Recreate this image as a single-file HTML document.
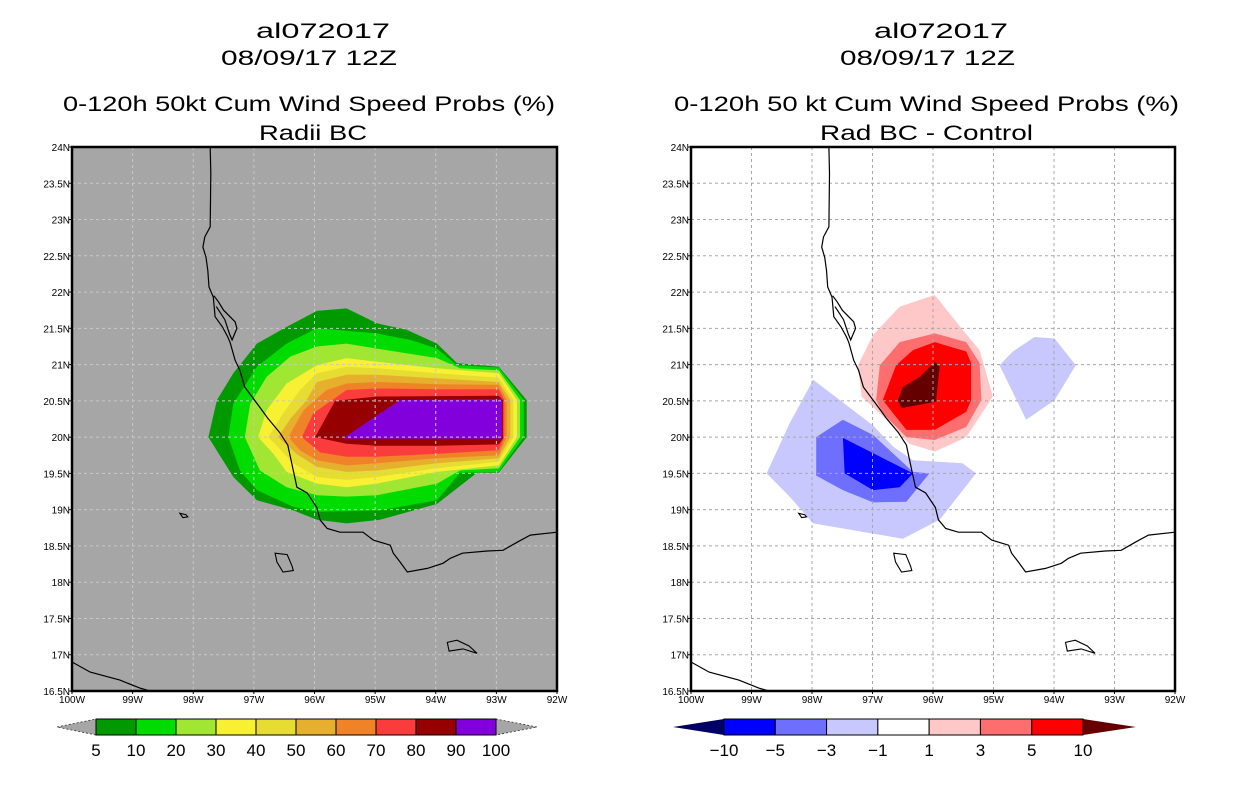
<!DOCTYPE html>
<html><head><meta charset="utf-8"><style>
body{margin:0;background:#fff;width:1236px;height:800px;overflow:hidden;font-family:"Liberation Sans",sans-serif}
svg{display:block}
</style></head><body>
<svg id="s" width="1236" height="800" xmlns="http://www.w3.org/2000/svg">
<g font-family="Liberation Sans, sans-serif" font-size="21" fill="#000">
<text x="256" y="38" textLength="134" lengthAdjust="spacingAndGlyphs">al072017</text>
<text x="221" y="65" textLength="176" lengthAdjust="spacingAndGlyphs">08/09/17 12Z</text>
<text x="63" y="111" textLength="492" lengthAdjust="spacingAndGlyphs">0-120h 50kt Cum Wind Speed Probs (%)</text>
<text x="259" y="140" textLength="108" lengthAdjust="spacingAndGlyphs">Radii BC</text>
<text x="874" y="38" textLength="134" lengthAdjust="spacingAndGlyphs">al072017</text>
<text x="840" y="65" textLength="175" lengthAdjust="spacingAndGlyphs">08/09/17 12Z</text>
<text x="674" y="111" textLength="505" lengthAdjust="spacingAndGlyphs">0-120h 50 kt Cum Wind Speed Probs (%)</text>
<text x="820" y="140" textLength="213" lengthAdjust="spacingAndGlyphs">Rad BC - Control</text>
</g>
</svg>
<script>
const probLevels=[5,10,20,30,40,50,60,70,80,90,100];
const probColors=["#009a00","#00dc00","#a0e632","#f8f032","#e6dc32","#e6af2d","#f08228","#fa3c3c","#960000","#8200dc"];
const probBands=[
[[-95.96,21.74],[-95.47,21.775],[-94.97,21.57],[-94.48,21.48],[-93.98,21.29],[-93.65,21.02],[-92.96,20.97],[-92.50,20.51],[-92.50,20.00],[-92.96,19.51],[-93.32,19.51],[-93.98,19.08],[-94.92,18.86],[-95.47,18.81],[-95.96,18.86],[-96.35,18.99],[-96.95,19.13],[-97.34,19.45],[-97.75,20.00],[-97.61,20.51],[-97.34,20.88],[-96.95,21.29],[-96.46,21.52]],
[[-95.96,21.50],[-94.97,21.43],[-94.42,21.34],[-93.98,21.22],[-93.65,20.99],[-92.96,20.96],[-92.55,20.51],[-92.55,20.00],[-92.96,19.52],[-93.60,19.51],[-93.98,19.13],[-94.92,18.99],[-95.96,18.97],[-96.35,19.04],[-96.95,19.27],[-97.23,19.54],[-97.42,20.00],[-97.34,20.46],[-96.95,20.97],[-96.46,21.29]],
[[-95.96,21.25],[-95.47,21.29],[-94.97,21.22],[-93.98,21.09],[-93.60,20.95],[-92.96,20.92],[-92.61,20.51],[-92.61,20.00],[-92.96,19.57],[-93.60,19.54],[-93.98,19.36],[-94.97,19.20],[-95.47,19.18],[-95.96,19.20],[-96.46,19.31],[-96.90,19.54],[-97.15,20.00],[-97.06,20.46],[-96.79,20.83],[-96.40,21.11]],
[[-95.96,20.99],[-95.47,21.09],[-94.97,21.04],[-93.98,20.95],[-92.96,20.88],[-92.66,20.51],[-92.66,20.00],[-92.96,19.61],[-93.98,19.52],[-94.97,19.36],[-95.47,19.31],[-95.96,19.36],[-96.46,19.52],[-96.68,19.77],[-96.93,20.00],[-96.79,20.37],[-96.46,20.74]],
[[-95.96,20.88],[-95.47,20.97],[-94.97,20.95],[-93.98,20.88],[-92.96,20.82],[-92.72,20.51],[-92.72,20.00],[-92.96,19.66],[-93.98,19.57],[-94.97,19.45],[-95.47,19.41],[-95.96,19.45],[-96.35,19.64],[-96.76,20.00],[-96.54,20.30],[-96.24,20.65]],
[[-95.96,20.76],[-95.47,20.86],[-94.97,20.86],[-93.98,20.81],[-92.96,20.76],[-92.77,20.51],[-92.77,20.00],[-92.96,19.71],[-93.98,19.64],[-94.97,19.54],[-95.47,19.52],[-95.96,19.59],[-96.30,19.77],[-96.60,20.00],[-96.40,20.25],[-96.13,20.51]],
[[-96.43,20.00],[-96.18,20.37],[-95.80,20.65],[-95.47,20.74],[-94.97,20.76],[-93.98,20.73],[-92.96,20.72],[-92.83,20.51],[-92.83,20.00],[-92.96,19.75],[-93.98,19.71],[-94.97,19.64],[-95.47,19.61],[-95.96,19.68],[-96.24,19.82]],
[[-96.21,20.00],[-96.02,20.33],[-95.47,20.65],[-94.97,20.67],[-93.98,20.66],[-92.96,20.66],[-92.87,20.51],[-92.87,20.00],[-92.96,19.82],[-93.98,19.77],[-94.97,19.73],[-95.47,19.73],[-95.91,19.79]],
[[-95.99,20.00],[-95.66,20.50],[-94.97,20.56],[-92.96,20.57],[-92.89,20.51],[-92.89,19.98],[-92.96,19.90],[-93.98,19.88],[-94.97,19.88],[-95.47,19.91]],
[[-95.50,20.00],[-94.59,20.51],[-92.91,20.53],[-92.91,19.98],[-95.50,19.98]]
];
const diffLevels=[-10,-5,-3,-1,1,3,5,10];
const diffColors=["#000064","#0000ff","#6e6eff","#c8c8ff","#ffffff","#ffc8c8","#ff6e6e","#ff0000","#640000"];
const diffPolys=[
{c:5,p:[[-95.97,21.96],[-95.51,21.48],[-95.23,21.20],[-95.01,20.56],[-95.45,20.00],[-95.97,19.80],[-96.39,19.91],[-96.88,20.33],[-97.18,20.56],[-97.24,20.99],[-96.99,21.41],[-96.55,21.80]]},
{c:6,p:[[-95.97,21.43],[-95.45,21.31],[-95.23,21.02],[-95.20,20.51],[-95.45,20.14],[-95.97,19.96],[-96.44,20.00],[-96.83,20.33],[-96.94,20.51],[-96.88,20.99],[-96.55,21.31]]},
{c:7,p:[[-95.97,21.31],[-95.45,21.18],[-95.37,21.02],[-95.37,20.51],[-95.45,20.35],[-95.97,20.10],[-96.44,20.10],[-96.66,20.33],[-96.83,20.51],[-96.61,20.99],[-96.33,21.20]]},
{c:8,p:[[-95.97,21.04],[-95.89,20.97],[-95.95,20.49],[-96.52,20.40],[-96.58,20.51],[-96.50,20.69],[-96.22,20.83]]},
{c:3,p:[[-94.32,21.38],[-93.99,21.36],[-93.64,20.99],[-93.99,20.51],[-94.46,20.24],[-94.90,20.99],[-94.68,21.18]]},
{c:3,p:[[-97.98,20.79],[-96.99,20.16],[-96.66,19.87],[-96.33,19.68],[-95.51,19.64],[-95.29,19.50],[-95.89,18.86],[-96.50,18.60],[-96.99,18.67],[-97.49,18.74],[-97.98,18.81],[-98.37,19.18],[-98.75,19.50],[-98.37,20.19]]},
{c:2,p:[[-97.49,20.24],[-96.99,20.03],[-96.33,19.52],[-96.06,19.50],[-96.44,19.11],[-96.99,19.10],[-97.49,19.27],[-97.93,19.47],[-97.93,20.00]]},
{c:1,p:[[-97.49,19.99],[-96.33,19.50],[-96.55,19.31],[-96.99,19.27],[-97.46,19.50]]}
];
const coastMain=[[-97.72,24],[-97.71,23.64],[-97.72,22.90],[-97.81,22.76],[-97.84,22.62],[-97.79,22.48],[-97.76,22.30],[-97.74,22.07],[-97.67,21.93],[-97.64,21.66],[-97.52,21.52],[-97.43,21.38],[-97.39,21.30],[-97.31,21.06],[-97.23,20.92],[-97.15,20.69],[-96.90,20.41],[-96.77,20.26],[-96.57,20.06],[-96.44,19.89],[-96.35,19.54],[-96.29,19.31],[-96.12,19.23],[-95.96,19.03],[-95.91,18.86],[-95.79,18.74],[-95.58,18.69],[-95.20,18.69],[-95.03,18.58],[-94.75,18.51],[-94.70,18.40],[-94.59,18.28],[-94.47,18.14],[-94.14,18.19],[-93.88,18.26],[-93.76,18.33],[-93.56,18.40],[-93.15,18.43],[-92.89,18.44],[-92.66,18.55],[-92.44,18.65],[-92.00,18.69]];
const coastLagoon=[[-97.66,21.95],[-97.58,21.86],[-97.50,21.75],[-97.31,21.59],[-97.28,21.50],[-97.36,21.34],[-97.40,21.42],[-97.48,21.62],[-97.62,21.80]];
const coastSW=[[-100,16.90],[-99.70,16.76],[-99.21,16.65],[-98.88,16.54],[-98.71,16.5]];
const islands=[
[[-98.22,18.95],[-98.12,18.93],[-98.09,18.90],[-98.17,18.89]],
[[-96.65,18.40],[-96.45,18.38],[-96.37,18.22],[-96.35,18.16],[-96.52,18.14],[-96.62,18.28]],
[[-93.81,17.17],[-93.65,17.20],[-93.45,17.12],[-93.32,17.02],[-93.55,17.08],[-93.78,17.05]]
];
const latTicks=[24,23.5,23,22.5,22,21.5,21,20.5,20,19.5,19,18.5,18,17.5,17,16.5];
const lonTicks=[-100,-99,-98,-97,-96,-95,-94,-93,-92];

const NS="http://www.w3.org/2000/svg";
const svg=document.getElementById('s');
function mk(tag,attrs,parent){const e=document.createElementNS(NS,tag);for(const k in attrs)e.setAttribute(k,attrs[k]);(parent||svg).appendChild(e);return e;}

function drawMap(x0,w,bg,side){
  const y0=147,h=544;
  const X=lon=>x0+(lon+100)/8*w;
  const Y=lat=>y0+(24-lat)/7.5*h;
  const pts=a=>a.map(p=>X(p[0]).toFixed(1)+","+Y(p[1]).toFixed(1)).join(" ");
  const g=mk('g',{});
  
  
  mk('clipPath',{id:'clip-'+side},g);
  mk('rect',{x:x0,y:y0,width:w,height:h},g.lastChild);
  const bgr=mk('rect',{x:x0,y:y0,width:w,height:h,fill:bg},g);
  
  
  const cg=mk('g',{'clip-path':'url(#clip-'+side+')'},g);
  if(side==='left'){
    probBands.forEach((b,i)=>{
      const e=mk('polygon',{points:pts(b),fill:probColors[i]},cg);
      
      
    });
  } else {
    diffPolys.forEach((d,i)=>{
      const e=mk('polygon',{points:pts(d.p),fill:diffColors[d.c]},cg);
      
      
    });
  }
  const gc=side==='left'?'#c8c8c8':'#a8a8a8';
  lonTicks.slice(1,-1).forEach(l=>{
    const e=mk('line',{x1:X(l),x2:X(l),y1:y0,y2:y0+h,stroke:gc,'stroke-width':1,'stroke-dasharray':'3,3'},cg);
    
    
  });
  latTicks.slice(1,-1).forEach(l=>{
    const e=mk('line',{x1:x0,x2:x0+w,y1:Y(l),y2:Y(l),stroke:gc,'stroke-width':1,'stroke-dasharray':'3,3'},cg);
    
    
  });
  [coastMain,coastLagoon,coastSW].forEach(c=>{
    const e=mk('polyline',{points:pts(c),fill:'none',stroke:'#000','stroke-width':1.2},cg);
    
    
  });
  islands.forEach(c=>{
    const e=mk('polygon',{points:pts(c),fill:'none',stroke:'#000','stroke-width':1.1},cg);
    
    
  });
  const fr=mk('rect',{x:x0,y:y0,width:w,height:h,fill:'none',stroke:'#000','stroke-width':2.5},g);
  
  
  latTicks.forEach(l=>{
    const t=mk('text',{x:x0-2,y:Y(l)+4,'font-size':10,'text-anchor':'end','font-family':'Liberation Sans, sans-serif'},g);
    t.textContent=l+'N';
    
    
    mk('line',{x1:x0-3,x2:x0,y1:Y(l),y2:Y(l),stroke:'#000'},g);
  });
  lonTicks.forEach(l=>{
    const t=mk('text',{x:X(l),y:y0+h+12,'font-size':10,'text-anchor':'middle','font-family':'Liberation Sans, sans-serif'},g);
    t.textContent=(-l)+'W';
    
    
    mk('line',{x1:X(l),x2:X(l),y1:y0+h,y2:y0+h+3,stroke:'#000'},g);
  });
}
drawMap(72,485,'#a6a6a6','left');
drawMap(691,484,'#ffffff','right');

function colorbar(x0,x1,xl,xr,colors,labels,leftTri,rightTri,side,dashed){
  const y0=719,y1=735,ym=727;
  const g=mk('g',{});
  
  
  const n=colors.length, bw=(x1-x0)/n;
  const lt=mk('polygon',{points:`${xl},${ym} ${x0},${y0} ${x0},${y1}`,fill:leftTri,stroke:dashed?'#333':'none','stroke-dasharray':dashed?'2,2':'','stroke-width':0.8},g);
  
  
  const rt=mk('polygon',{points:`${xr},${ym} ${x1},${y0} ${x1},${y1}`,fill:rightTri,stroke:dashed?'#333':'none','stroke-dasharray':dashed?'2,2':'','stroke-width':0.8},g);
  
  
  colors.forEach((c,i)=>{
    const r=mk('rect',{x:x0+i*bw,y:y0,width:bw,height:y1-y0,fill:c,stroke:'#000','stroke-width':1},g);
    
    
  });
  labels.forEach((l,i)=>{
    const t=mk('text',{x:x0+i*bw,y:756,'font-size':17,'text-anchor':'middle','font-family':'Liberation Sans, sans-serif'},g);
    t.textContent=String(l).replace('-','\u2212');
    
    
  });
}
colorbar(96,496,57,537,probColors,probLevels,'#a6a6a6','#a6a6a6','left',true);
colorbar(724,1083,673,1136,diffColors.slice(1,8),diffLevels,diffColors[0],diffColors[8],'right',false);
</script>
</body></html>
